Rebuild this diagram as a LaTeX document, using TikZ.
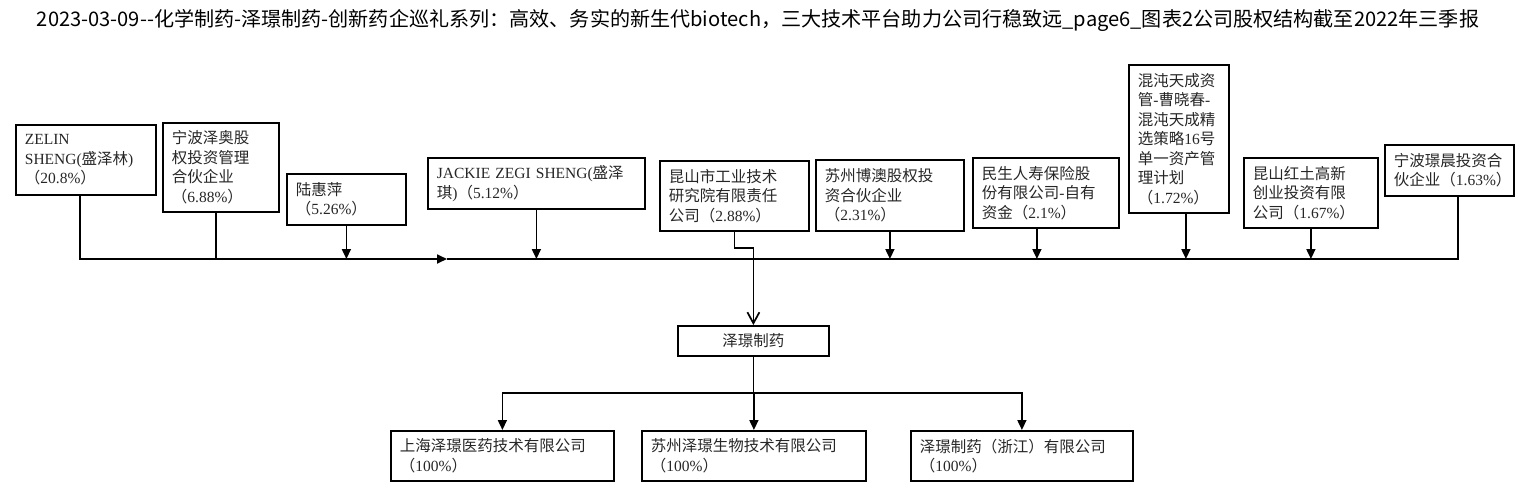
\documentclass[tikz,border=0pt]{standalone}
\usepackage{fontspec}
\setmainfont{Liberation Serif}
\newfontfamily\cjk{Noto Sans CJK SC}
\usetikzlibrary{arrows.meta,positioning}
\newcommand{\lat}[1]{{\rmfamily #1}}
\newcommand{\pct}[1]{（\lat{#1\%}）}

\begin{document}
\begin{tikzpicture}[x=1pt,y=-1pt,
      box_st/.style={
         draw=black,
         line width=1.8pt,
         anchor=north west,
         align=left,
         inner xsep=9pt,
         inner ysep=2pt,
         text=black!85,
         font=\cjk\fontsize{15.5}{19.5}\selectfont},
      box_mid/.style={
         draw=black,
         line width=1.8pt,
         anchor=north west,
         align=center,
         minimum width=151pt,
         minimum height=30pt,
         inner sep=0pt,
         text=black!85,
         font=\cjk\fontsize{15.5}{19.5}\selectfont},
      line_black/.style={
         line width=1.7pt,
         },
      arrow_black/.style={
         -{Triangle[length=10pt,width=9pt]},
         line width=1.7pt,
         },
      arrow_open/.style={
         -{Straight Barb[length=11pt,width=12pt]},
         line width=1.7pt,
         }
]
      \useasboundingbox (0,0) rectangle (1533,493);

      %title
      \node[font=\cjk\fontsize{20.1}{20.1}\selectfont] (title) at (758,20) {2023-03-09--化学制药-泽璟制药-创新药企巡礼系列：高效、务实的新生代biotech，三大技术平台助力公司行稳致远\_page6\_图表2公司股权结构截至2022年三季报};

      %shareholders
      \node[box_st,text width=122pt,minimum height=70pt] (zelin) at (15,124) {\lat{ZELIN}\\\lat{SHENG(}盛泽林\lat{)}\\\pct{20.8}};
      \node[box_st,text width=98pt,minimum height=89pt] (ningbo_zeao) at (162,122) {宁波泽奥股\\权投资管理\\合伙企业\\\pct{6.88}};
      \node[box_st,text width=101pt,minimum height=51pt] (luhuiping) at (286,173) {陆惠萍\\\pct{5.26}};
      \node[box_st,text width=199pt,minimum height=51pt] (jackie) at (427,157) {\lat{JACKIE ZEGI SHENG(}盛泽\\琪\lat{)}\pct{5.12}};
      \node[box_st,text width=131pt,minimum height=70pt] (kunshan_gy) at (659,160) {昆山市工业技术\\研究院有限责任\\公司\pct{2.88}};
      \node[box_st,text width=130pt,minimum height=71pt] (suzhou_boao) at (815,159) {苏州博澳股权投\\资合伙企业\\\pct{2.31}};
      \node[box_st,text width=128pt,minimum height=70pt] (minsheng) at (972,157) {民生人寿保险股\\份有限公司\lat{-}自有\\资金\pct{2.1}};
      \node[box_st,text width=82pt,minimum height=148pt] (hundun) at (1128,64) {混沌天成资\\管\lat{-}曹晓春\lat{-}\\混沌天成精\\选策略\lat{16}号\\单一资产管\\理计划\\\pct{1.72}};
      \node[box_st,text width=116pt,minimum height=70pt] (kunshan_ht) at (1243,157) {昆山红土高新\\创业投资有限\\公司\pct{1.67}};
      \node[box_st,text width=111pt,minimum height=51pt] (ningbo_jc) at (1384,144) {宁波璟晨投资合\\伙企业\pct{1.63}};

      %company
      \node[box_mid] (zj) at (677,325) {泽璟制药};

      %subsidiaries
      \node[box_st,text width=205pt,minimum height=50pt] (b1) at (390,430) {上海泽璟医药技术有限公司\\\pct{100}};
      \node[box_st,text width=206pt,minimum height=50pt] (b2) at (641,430) {苏州泽璟生物技术有限公司\\\pct{100}};
      \node[box_st,text width=204pt,minimum height=50pt] (b3) at (910,430) {泽璟制药（浙江）有限公司\\\pct{100}};

      %bus
      \coordinate (bus) at (0,259);
      \coordinate (bus_arrow) at (447,259);
      \coordinate (sub) at (0,393);
      \foreach \i/\dx in {zelin/-6,ningbo_zeao/-5,luhuiping/0,jackie/0,suzhou_boao/0,minsheng/-9,hundun/7,kunshan_ht/0,ningbo_jc/8.5}
        \coordinate (\i_d) at ([xshift=\dx pt]\i.south);

      \draw[arrow_black] (zelin_d) |- (bus_arrow);
      \draw[line_black] (bus_arrow) -| (ningbo_jc_d);
      \draw[line_black] (ningbo_zeao_d) -- (ningbo_zeao_d |- bus);
      \foreach \i in {luhuiping,jackie,suzhou_boao,minsheng,hundun,kunshan_ht}
        \draw[arrow_black] (\i_d) -- (\i_d |- bus);

      \draw[arrow_open] (kunshan_gy.south) -- ++(0,16) -| (zj.north);

      \draw[line_black] (zj.south) -- (zj.south |- sub);
      \foreach \i in {b1,b2,b3}
        \draw[arrow_black] (zj.south |- sub) -| (\i.north);
\end{tikzpicture}
\end{document}
